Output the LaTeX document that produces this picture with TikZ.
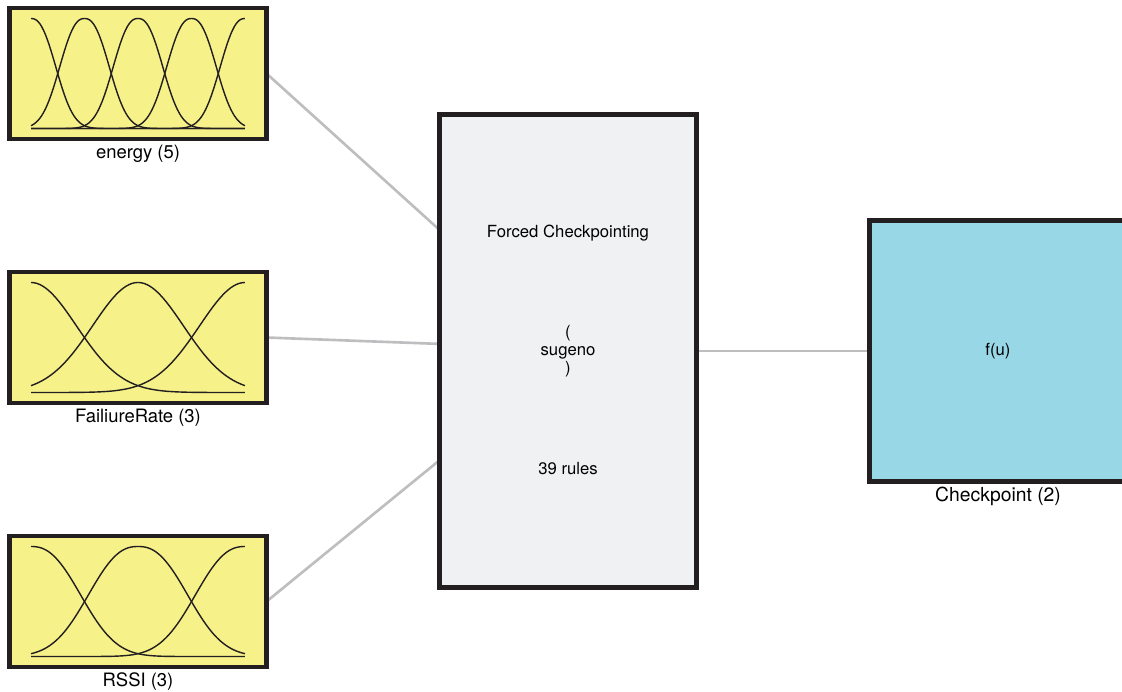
\documentclass[tikz,border=0pt]{standalone}
\usepackage{fontspec}
\setmainfont{TeX Gyre Heros}
\usetikzlibrary{backgrounds,calc,positioning}
\definecolor{mfyellow}{RGB}{246,241,137}
\definecolor{fisgray}{RGB}{240,241,243}
\definecolor{outcyan}{RGB}{152,216,230}
\definecolor{boxedge}{RGB}{35,31,32}
\definecolor{wire}{RGB}{190,190,193}
\newcommand{\bw}{5.14cm}
\newcommand{\gap}{3.46cm}
\tikzset{
    declare function={mf(\u,\p)=exp(-0.6931*pow(min(abs(\u),4)+0.001,\p));},
    mfbox/.style = {
        draw=boxedge, fill=mfyellow, rectangle,
        line width=2.8pt,
        outer sep=0,
        inner sep=0,
        minimum width={\bw},
        minimum height={2.62cm}
    },
    fisbox/.style = {
        draw=boxedge, fill=fisgray, rectangle,
        line width=2.8pt,
        outer sep=0,
        inner sep=0,
        minimum width={\bw},
        minimum height={9.46cm}
    },
    outbox/.style = {
        draw=boxedge, fill=outcyan, rectangle,
        line width=2.8pt,
        outer sep=0,
        inner sep=0,
        minimum width={\bw},
        minimum height={5.22cm}
    },
    boxlabel/.style = {
        font=\fontsize{10.5}{12}\selectfont,
        inner sep=1pt
    },
    fistext/.style = {
        font=\fontsize{9.5}{10.2}\selectfont,
        align=center
    },
    mfline/.style = {draw=boxedge, line width=0.8pt},
    wireline/.style = {draw=wire, line width=1.5pt}
}
% membership functions: node, count, shape exponent
\newcommand{\mfplot}[3]{%
    \pgfmathsetmacro{\mfstep}{4.28/(#2-1)}
    \foreach \k in {1,...,#2}{
        \draw[mfline, shift={(#1.center)}] plot[domain=-2.14:2.14, samples=121]
            (\x, {-1.1+2.2*mf((\x+2.14-(\k-1)*\mfstep)/(0.5*\mfstep),#3)});
    }%
}

\begin{document}
\begin{tikzpicture}

\useasboundingbox (0,0) rectangle (22.44,-13.82);

\node[mfbox, label={[boxlabel, label distance=2.2pt]below:FailiureRate (3)}] (FailiureRate) at (2.76,-6.75) {};
\node[mfbox, above=2.66cm of FailiureRate, label={[boxlabel, label distance=2.2pt]below:energy (5)}] (energy) {};
\node[mfbox, below=2.66cm of FailiureRate, label={[boxlabel, label distance=2.2pt]below:RSSI (3)}] (RSSI) {};

\mfplot{energy}{5}{2.4}
\mfplot{FailiureRate}{3}{2}
\mfplot{RSSI}{3}{2.4}

\node[fisbox] (fis) at (11.36,-7.02) {};
\node[fistext] at ($(fis.north)!0.25!(fis.south)$) {Forced Checkpointing};
\node[fistext] at (fis.center) {(\\sugeno\\)};
\node[fistext] at ($(fis.north)!0.748!(fis.south)$) {39 rules};

\node[outbox, right=\gap of fis, label={[boxlabel, font=\fontsize{11}{13}\selectfont, label distance=2pt]below:Checkpoint (2)}] (Checkpoint) {};
\node[fistext] at (Checkpoint.center) {f(u)};

\coordinate (in1) at ($(fis.north west)!0.244!(fis.south west)$);
\coordinate (in2) at ($(fis.north west)!0.485!(fis.south west)$);
\coordinate (in3) at ($(fis.north west)!0.731!(fis.south west)$);

\begin{scope}[on background layer]
\draw[wireline] (energy.east) -- (in1);
\draw[wireline] (FailiureRate.east) -- (in2);
\draw[wireline] (RSSI.east) -- (in3);
\draw[wireline] (fis.east) -- (Checkpoint.west);
\end{scope}

\end{tikzpicture}
\end{document}
